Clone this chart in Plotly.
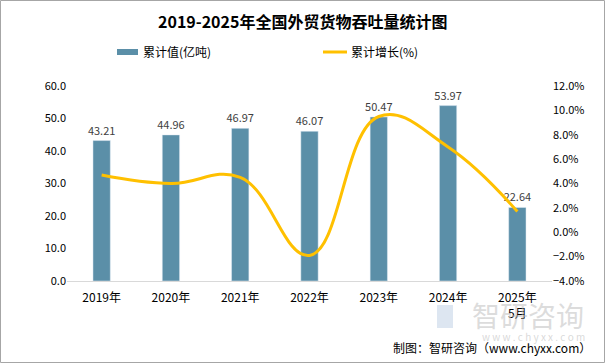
import plotly.graph_objects as go

categories = ["2019年", "2020年", "2021年", "2022年", "2023年", "2024年", "2025年<br>5月"]
throughput = [43.21, 44.96, 46.97, 46.07, 50.47, 53.97, 22.64]
growth = [4.7, 4.0, 4.5, -1.9, 9.5, 7.0, 1.7]

FONT = "Noto Sans CJK SC"
W, H = 605, 363
L, R, T, B = 67, 53, 86, 82
pw, ph = W - L - R, H - T - B

def px(x):
    return (x - L) / pw

def py(y):
    return (H - B - y) / ph

fig = go.Figure()
fig.add_trace(go.Bar(
    x=categories, y=throughput, name="累计值(亿吨)",
    marker=dict(color="#5B8FA8"), width=0.25,
    text=[f"{v:.2f}" for v in throughput], textposition="outside",
    constraintext="none",
    textfont=dict(size=11, color="#404040", family=FONT),
    cliponaxis=False,
))
fig.add_trace(go.Scatter(
    x=categories, y=growth, name="累计增长(%)", yaxis="y2",
    mode="lines", line=dict(color="#FFC000", width=3, shape="spline", smoothing=1.2),
))

fig.update_layout(
    width=W, height=H,
    margin=dict(l=L, r=R, t=T, b=B),
    paper_bgcolor="white", plot_bgcolor="white",
    font=dict(family=FONT, size=11, color="#000000"),
    showlegend=False,
    bargap=0.75,
    xaxis=dict(showline=True, linecolor="#D9D9D9", linewidth=1, ticks="",
               ticklabelstandoff=6, tickfont=dict(size=12, color="#000000")),
    yaxis=dict(range=[0, 60], dtick=10, tickformat=".1f", showgrid=False,
               zeroline=False, ticks="", tickfont=dict(size=11)),
    yaxis2=dict(range=[-4, 12], dtick=2, tickformat=".1f", ticksuffix="%",
                overlaying="y", side="right", showgrid=False, zeroline=False,
                ticks="", tickfont=dict(size=11)),
)

shapes = [
    dict(type="rect", xref="paper", yref="paper", x0=px(0.5), x1=px(604.5),
         y0=py(362.5), y1=py(0.5), line=dict(color="#A6A6A6", width=1)),
    dict(type="rect", xref="paper", yref="paper", x0=px(117), x1=px(138),
         y0=py(55), y1=py(49), fillcolor="#5B8FA8", line=dict(width=0)),
    dict(type="line", xref="paper", yref="paper", x0=px(323), x1=px(347),
         y0=py(52), y1=py(52), line=dict(color="#FFC000", width=3)),
    # watermark logo
    dict(type="rect", xref="paper", yref="paper", x0=px(437), x1=px(453),
         y0=py(328), y1=py(305), fillcolor="rgba(180,200,225,0.45)", line=dict(width=0),
         layer="below"),
]
annotations = [
    dict(text="<b>2019-2025年全国外贸货物吞吐量统计图</b>", xref="paper", yref="paper",
         x=px(302), y=py(21), showarrow=False, xanchor="center", yanchor="middle",
         font=dict(size=16, color="#000000", family=FONT)),
    dict(text="累计值(亿吨)", xref="paper", yref="paper", x=px(141), y=py(52),
         showarrow=False, xanchor="left", yanchor="middle", font=dict(size=12)),
    dict(text="累计增长(%)", xref="paper", yref="paper", x=px(349), y=py(52),
         showarrow=False, xanchor="left", yanchor="middle", font=dict(size=12)),
    dict(text="智研咨询", xref="paper", yref="paper", x=px(586), y=py(315),
         showarrow=False, xanchor="right", yanchor="middle",
         font=dict(size=28, color="rgba(185,185,185,0.5)")),
    dict(text="w w w . c h y x x . c o m", xref="paper", yref="paper", x=px(587), y=py(336),
         showarrow=False, xanchor="right", yanchor="middle",
         font=dict(size=10, color="rgba(185,185,185,0.55)")),
    dict(text="制图：智研咨询（www.chyxx.com）", xref="paper", yref="paper", x=px(593), y=py(347),
         showarrow=False, xanchor="right", yanchor="middle",
         font=dict(size=12, color="#000000")),
]
fig.update_layout(shapes=shapes, annotations=annotations)
fig.write_html("out.html", config={"displayModeBar": False},
               post_script="document.body.style.margin='0';document.body.style.padding='0';")
